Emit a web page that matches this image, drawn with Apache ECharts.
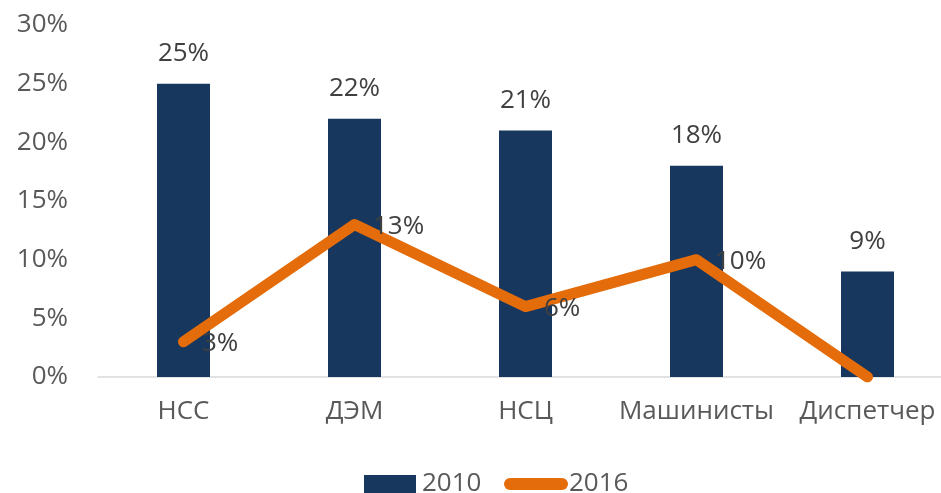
<!DOCTYPE html>
<html>
<head>
<meta charset="utf-8">
<script src="https://cdn.jsdelivr.net/npm/echarts@6/dist/echarts.min.js"></script>
<style>
  html, body { margin: 0; padding: 0; background: #fff; }
  #chart { width: 941px; height: 493px; }
</style>
</head>
<body>
<div id="chart"></div>
<script>
var categories = ['НСС', 'ДЭМ', 'НСЦ', 'Машинисты', 'Диспетчер']
var values2010 = [25, 22, 21, 18, 9]
var values2016 = [3, 13, 6, 10, 0]

var font = 'Open Sans'
var pill = 'path://M6,0H58A6,6,0,0,1,58,12H6A6,6,0,0,1,6,0Z'

var chart = echarts.init(document.getElementById('chart'))
chart.setOption({
  animation: false,
  textStyle: { fontFamily: font },
  grid: { left: 98, right: -12, top: 25, bottom: 116, outerBoundsMode: 'none', containLabel: false },
  legend: [
    {
      data: [{ name: '2010', icon: 'rect' }],
      left: 359, top: 466,
      itemWidth: 52, itemHeight: 18, itemGap: 0,
      textStyle: { fontSize: 26, color: '#595959', fontFamily: font, padding: [0, 0, 0, 1] }
    },
    {
      data: [{ name: '2016', icon: pill }],
      left: 499, top: 466,
      itemWidth: 64, itemHeight: 12, itemGap: 0,
      textStyle: { fontSize: 26, color: '#595959', fontFamily: font, padding: [0, 0, 0, -4] }
    }
  ],
  xAxis: {
    type: 'category',
    data: categories,
    axisTick: { show: false },
    axisLine: { lineStyle: { color: '#d9d9d9', width: 1.5 } },
    axisLabel: { color: '#595959', fontSize: 26, margin: 22, interval: 0, fontFamily: font }
  },
  yAxis: {
    type: 'value',
    min: 0, max: 30, interval: 5,
    splitLine: { show: false },
    axisLabel: { formatter: '{value}%', color: '#595959', fontSize: 26, margin: 30, fontFamily: font }
  },
  series: [
    {
      name: '2010',
      type: 'bar',
      data: values2010,
      barWidth: 53,
      itemStyle: { color: '#17375e' },
      label: {
        show: true, position: 'top', distance: 17,
        formatter: '{c}%', color: '#404040', fontSize: 26, fontFamily: font
      }
    },
    {
      name: '2016',
      type: 'line',
      data: values2016,
      symbol: 'circle',
      symbolSize: 1,
      showSymbol: true,
      lineStyle: { color: '#e46c0a', width: 11, cap: 'round', join: 'round' },
      itemStyle: { color: '#e46c0a' },
      label: {
        show: true, position: 'right', distance: 18, offset: [0, 2],
        formatter: function (p) { return p.value === 0 ? '' : p.value + '%' },
        color: '#404040', fontSize: 26, fontFamily: font
      }
    }
  ]
})
</script>
</body>
</html>
